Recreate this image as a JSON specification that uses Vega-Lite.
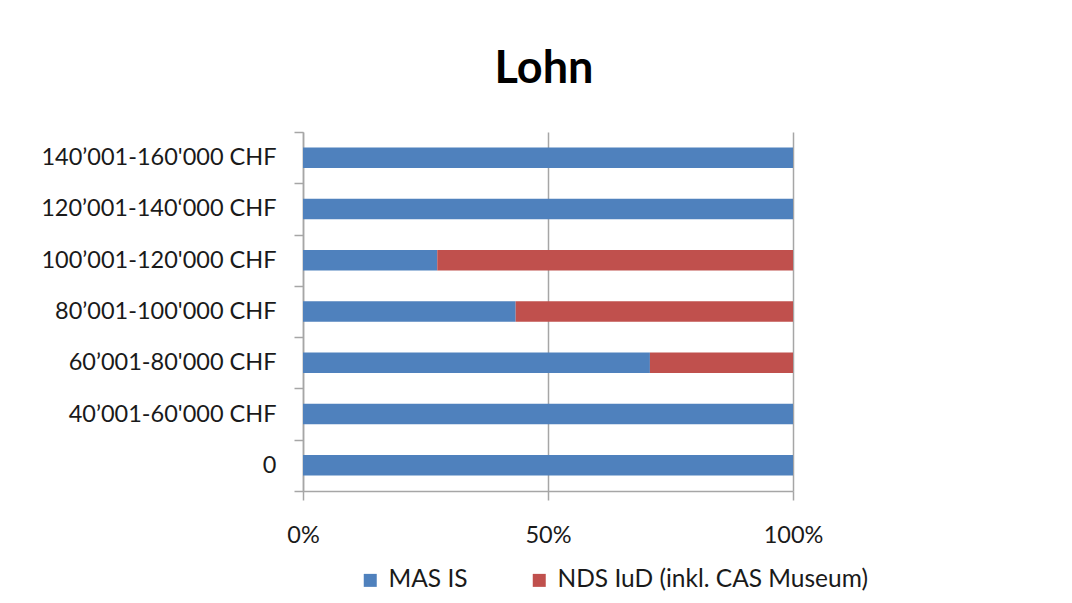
{
  "$schema": "https://vega.github.io/schema/vega-lite/v6.json",
  "autosize": {"type": "none"},
  "width": 490,
  "height": 359,
  "padding": {"left": 303, "top": 132, "right": 279, "bottom": 112},
  "background": "white",
  "title": {
    "text": "Lohn",
    "font": "Lato",
    "fontSize": 45,
    "fontWeight": "bold",
    "color": "#000000",
    "anchor": "middle",
    "dx": -4,
    "dy": 56,
    "baseline": "alphabetic",
    "offset": 48
  },
  "data": {
    "values": [
      {"Lohn": "140’001-160'000 CHF", "Studiengang": "MAS IS", "Anteil": 100},
      {"Lohn": "140’001-160'000 CHF", "Studiengang": "NDS IuD (inkl. CAS Museum)", "Anteil": 0},
      {"Lohn": "120’001-140‘000 CHF", "Studiengang": "MAS IS", "Anteil": 100},
      {"Lohn": "120’001-140‘000 CHF", "Studiengang": "NDS IuD (inkl. CAS Museum)", "Anteil": 0},
      {"Lohn": "100’001-120'000 CHF", "Studiengang": "MAS IS", "Anteil": 27.4},
      {"Lohn": "100’001-120'000 CHF", "Studiengang": "NDS IuD (inkl. CAS Museum)", "Anteil": 72.6},
      {"Lohn": "80’001-100'000 CHF", "Studiengang": "MAS IS", "Anteil": 43.4},
      {"Lohn": "80’001-100'000 CHF", "Studiengang": "NDS IuD (inkl. CAS Museum)", "Anteil": 56.6},
      {"Lohn": "60’001-80'000 CHF", "Studiengang": "MAS IS", "Anteil": 70.8},
      {"Lohn": "60’001-80'000 CHF", "Studiengang": "NDS IuD (inkl. CAS Museum)", "Anteil": 29.2},
      {"Lohn": "40’001-60'000 CHF", "Studiengang": "MAS IS", "Anteil": 100},
      {"Lohn": "40’001-60'000 CHF", "Studiengang": "NDS IuD (inkl. CAS Museum)", "Anteil": 0},
      {"Lohn": "0", "Studiengang": "MAS IS", "Anteil": 100},
      {"Lohn": "0", "Studiengang": "NDS IuD (inkl. CAS Museum)", "Anteil": 0}
    ]
  },
  "mark": {"type": "bar", "height": {"band": 0.4}},
  "encoding": {
    "y": {
      "field": "Lohn",
      "type": "nominal",
      "sort": ["140’001-160'000 CHF", "120’001-140‘000 CHF", "100’001-120'000 CHF", "80’001-100'000 CHF", "60’001-80'000 CHF", "40’001-60'000 CHF", "0"],
      "scale": {"paddingInner": 0, "paddingOuter": 0},
      "axis": {
        "title": null,
        "tickBand": "extent",
        "tickSize": 9,
        "tickColor": "#A6A6A6",
        "tickWidth": 1.5,
        "domainColor": "#A6A6A6",
        "domainWidth": 1.5,
        "labelPadding": 18,
        "labelLimit": 400,
        "labelFont": "Lato",
        "labelFontSize": 23.5,
        "labelColor": "#1a1a1a",
        "grid": false
      }
    },
    "x": {
      "field": "Anteil",
      "type": "quantitative",
      "stack": "normalize",
      "scale": {"domain": [0, 1], "nice": false},
      "axis": {
        "title": null,
        "values": [0, 0.5, 1],
        "format": ".0%",
        "grid": true,
        "gridColor": "#A6A6A6",
        "gridWidth": 1.5,
        "tickSize": 9,
        "tickColor": "#A6A6A6",
        "tickWidth": 1.5,
        "domainColor": "#A6A6A6",
        "domainWidth": 1.5,
        "labelPadding": 23,
        "labelFont": "Lato",
        "labelFontSize": 23.5,
        "labelColor": "#1a1a1a",
        "labelFlush": false
      }
    },
    "color": {
      "field": "Studiengang",
      "type": "nominal",
      "scale": {"domain": ["MAS IS", "NDS IuD (inkl. CAS Museum)"], "range": ["#4F81BD", "#C0504D"]},
      "legend": {
        "title": null,
        "orient": "none",
        "direction": "horizontal",
        "legendX": 55,
        "legendY": 436,
        "symbolType": "square",
        "symbolSize": 169,
        "symbolStrokeWidth": 0,
        "labelFont": "Lato",
        "labelFontSize": 24.5,
        "labelLimit": 400,
        "labelColor": "#1a1a1a",
        "labelOffset": 6,
        "columnPadding": 59
      }
    },
    "order": {"field": "Studiengang", "sort": "ascending"}
  },
  "config": {
    "view": {"stroke": null},
    "axis": {"labelFontWeight": "normal"}
  }
}
